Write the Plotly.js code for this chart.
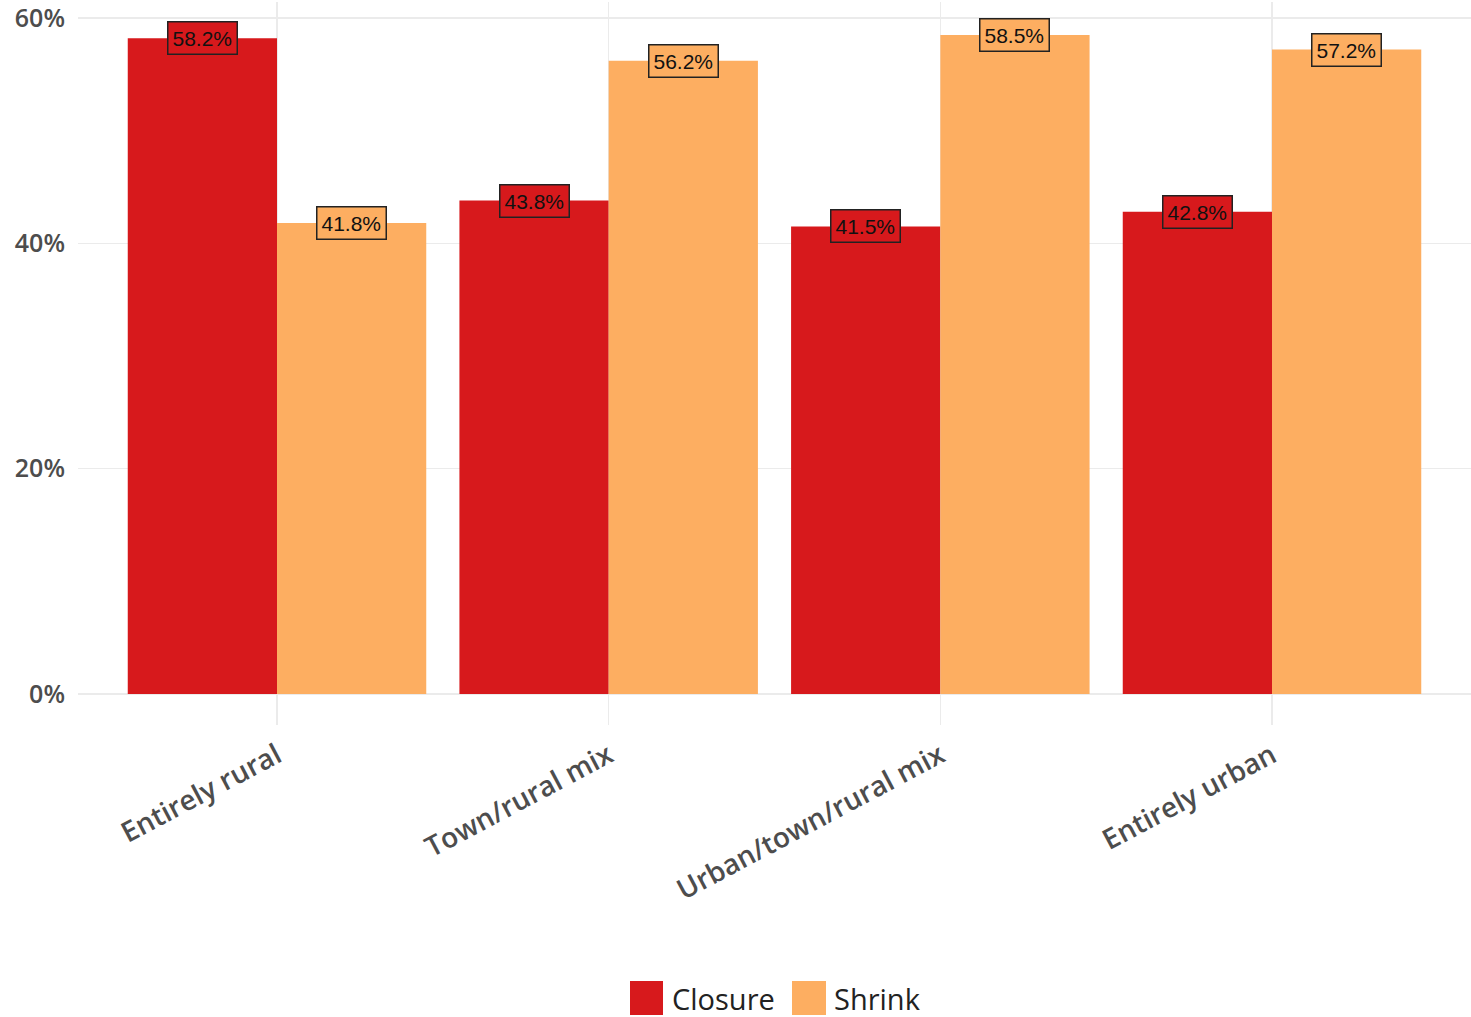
<!DOCTYPE html>
<html>
<head>
<meta charset="utf-8">
<script src="https://cdn.plot.ly/plotly-3.0.1.min.js"></script>
<style>html,body{margin:0;padding:0;background:#fff;}#chart{width:1471px;height:1017px;}</style>
</head>
<body>
<div id="chart"></div>
<script>
const categories = ["Entirely rural", "Town/rural mix", "Urban/town/rural mix", "Entirely urban"];
const closure = [58.2, 43.8, 41.5, 42.8];
const shrink = [41.8, 56.2, 58.5, 57.2];
const seriesNames = ["Closure", "Shrink"];
const yTicks = [0, 20, 40, 60];
const yTickText = ["0%", "20%", "40%", "60%"];

const colors = ["#D7191C", "#FDAE61"];
const W = 1471, H = 1017;
const mL = 78, mR = 0, mT = 2, mB = 292;
const pw = W - mL - mR, ph = H - mT - mB;
const px2x = p => (p - mL) / pw;
const py2y = p => (H - mB - p) / ph;

const traces = [closure, shrink].map((vals, i) => ({
  type: "bar",
  name: seriesNames[i],
  x: categories,
  y: vals,
  marker: {color: colors[i], line: {width: 0}},
  hoverinfo: "none",
  showlegend: false
}));

const annotations = [];
[closure, shrink].forEach((vals, s) => {
  vals.forEach((v, i) => {
    annotations.push({
      x: i + (s === 0 ? -0.225 : 0.225),
      y: v,
      xref: "x", yref: "y",
      text: v.toFixed(1) + "%",
      showarrow: false,
      font: {family: "Liberation Sans, Arial, sans-serif", size: 21, color: "#111"},
      bgcolor: colors[s],
      bordercolor: "#222",
      borderwidth: 1.5,
      borderpad: 4,
      xanchor: "center", yanchor: "middle"
    });
  });
});

// custom legend
const legendItems = [
  {sq: [630, 663], tx: 670},
  {sq: [792, 826], tx: 832}
];
const shapes = [];
legendItems.forEach((it, i) => {
  shapes.push({
    type: "rect", xref: "paper", yref: "paper",
    x0: px2x(it.sq[0]), x1: px2x(it.sq[1]),
    y0: py2y(1015), y1: py2y(981),
    fillcolor: colors[i], line: {width: 0}
  });
  annotations.push({
    xref: "paper", yref: "paper",
    x: px2x(it.tx), y: py2y(998),
    xanchor: "left", yanchor: "middle",
    text: seriesNames[i], showarrow: false,
    font: {family: "Open Sans, sans-serif", size: 29, color: "#222"}
  });
});

const layout = {
  width: W, height: H,
  margin: {l: mL, r: mR, t: mT, b: mB, pad: 0},
  paper_bgcolor: "#fff", plot_bgcolor: "#fff",
  barmode: "group",
  bargap: 0.1, bargroupgap: 0,
  showlegend: false,
  xaxis: {
    type: "category",
    range: [-0.6, 3.6],
    showgrid: true, gridcolor: "#ebebeb", gridwidth: 1.2,
    showline: false, zeroline: false,
    ticks: "",
    tickangle: -28,
    tickfont: {family: "Open Sans, sans-serif", size: 28, color: "#4d4d4d", weight: 600},
    ticklabelstandoff: 8,
    ticklabeloverflow: "allow"
  },
  yaxis: {
    range: [-2.75, 61.42],
    tickvals: yTicks, ticktext: yTickText,
    showgrid: true, gridcolor: "#ebebeb", gridwidth: 1.5,
    zeroline: false, showline: false, ticks: "",
    tickfont: {family: "Open Sans, sans-serif", size: 25, color: "#4d4d4d", weight: 600},
    ticklabelstandoff: 12,
    ticklabeloverflow: "allow"
  },
  annotations: annotations,
  shapes: shapes
};

Plotly.newPlot("chart", traces, layout, {staticPlot: true, displayModeBar: false});
</script>
</body>
</html>
